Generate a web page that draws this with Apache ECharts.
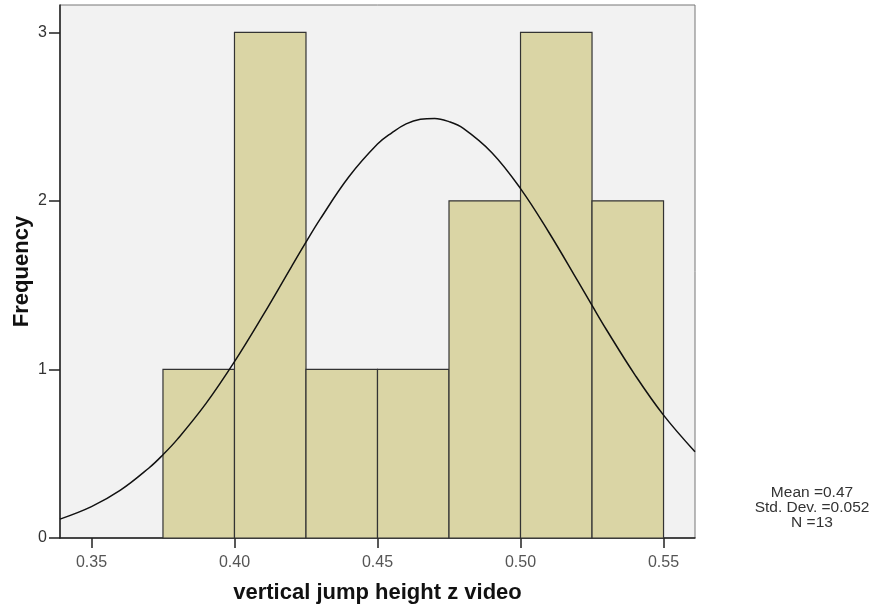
<!DOCTYPE html>
<html><head><meta charset="utf-8">
<script src="https://cdn.jsdelivr.net/npm/echarts@6/dist/echarts.min.js"></script>
<style>html,body{margin:0;padding:0;background:#fff}#c{width:880px;height:607px}</style>
</head><body><div id="c"></div>
<script>
// Histogram bins (lower/upper edges) and frequencies
const binLow  = [0.375, 0.400, 0.425, 0.450, 0.475, 0.500, 0.525];
const binHigh = [0.400, 0.425, 0.450, 0.475, 0.500, 0.525, 0.550];
const counts  = [1, 3, 1, 1, 2, 3, 2];
// Normal curve points
const curveX = [0.339,0.35,0.36,0.37,0.375,0.38,0.39,0.40,0.41,0.42,0.425,0.43,0.44,0.45,0.455,0.46,0.465,0.47,0.475,0.48,0.49,0.50,0.51,0.52,0.525,0.53,0.54,0.55,0.561];
const curveY = [0.112,0.186,0.282,0.414,0.494,0.585,0.797,1.046,1.322,1.612,1.755,1.893,2.143,2.337,2.404,2.457,2.484,2.489,2.470,2.430,2.286,2.073,1.811,1.525,1.380,1.237,0.968,0.729,0.512];
const xTicks = [0.35, 0.40, 0.45, 0.50, 0.55];
const yTicks = [0, 1, 2, 3];
const statsLines = ['Mean =0.47', 'Std. Dev. =0.052', 'N =13'];

const chart = echarts.init(document.getElementById('c'));
const barData = binLow.map((l, i) => [l, binHigh[i], counts[i]]);
const lineData = curveX.map((x, i) => [x, curveY[i]]);
const FF = 'Liberation Sans, Arial, sans-serif';

chart.setOption({
  animation: false,
  grid: { left: 60, right: 185, top: 5, bottom: 69, outerBoundsMode: 'none', containLabel: false,
          show: true, backgroundColor: '#f2f2f2', borderColor: '#777', borderWidth: 1 },
  xAxis: {
    type: 'value', min: 0.339, max: 0.561,
    name: 'vertical jump height z video', nameLocation: 'middle', nameGap: 44, nameMoveOverlap: false,
    nameTextStyle: { fontFamily: FF, fontWeight: 'bold', fontSize: 22, color: '#111' },
    axisLine: { show: true, onZero: false, lineStyle: { color: '#222', width: 1.5 } },
    axisTick: { show: true, length: 10, customValues: xTicks, lineStyle: { color: '#222', width: 1.5 } },
    axisLabel: { customValues: xTicks, formatter: v => v.toFixed(2), margin: 17, fontFamily: FF, fontSize: 16, color: '#555' },
    splitLine: { show: false }
  },
  yAxis: {
    type: 'value', min: 0, max: 3.162,
    name: 'Frequency', nameLocation: 'middle', nameGap: 27, nameRotate: 90, nameMoveOverlap: false,
    nameTextStyle: { fontFamily: FF, fontWeight: 'bold', fontSize: 22, color: '#111' },
    axisLine: { show: true, onZero: false, lineStyle: { color: '#222', width: 1.5 } },
    axisTick: { show: true, length: 11, customValues: yTicks, lineStyle: { color: '#222', width: 1.5 } },
    axisLabel: { customValues: yTicks, margin: 13, fontFamily: FF, fontSize: 16, color: '#333' },
    splitLine: { show: false }
  },
  series: [
    {
      type: 'custom',
      data: barData,
      encode: { x: [0, 1], y: 2 },
      renderItem: function (params, api) {
        const p0 = api.coord([api.value(0), 0]);
        const p1 = api.coord([api.value(1), api.value(2)]);
        return {
          type: 'rect',
          shape: { x: p0[0], y: p1[1], width: p1[0] - p0[0], height: p0[1] - p1[1] },
          style: { fill: '#dad5a5', stroke: '#333', lineWidth: 1.2 }
        };
      },
      z: 2
    },
    {
      type: 'line', data: lineData, smooth: 0.4, showSymbol: false,
      lineStyle: { color: '#111', width: 1.5 }, z: 3
    }
  ],
  graphic: statsLines.map((t, i) => ({
    type: 'text', x: 812, y: 493 + i * 15,
    style: { text: t, textAlign: 'center', textVerticalAlign: 'middle', fontFamily: FF, fontSize: 15.5, fill: '#333' }
  }))
});
</script></body></html>
